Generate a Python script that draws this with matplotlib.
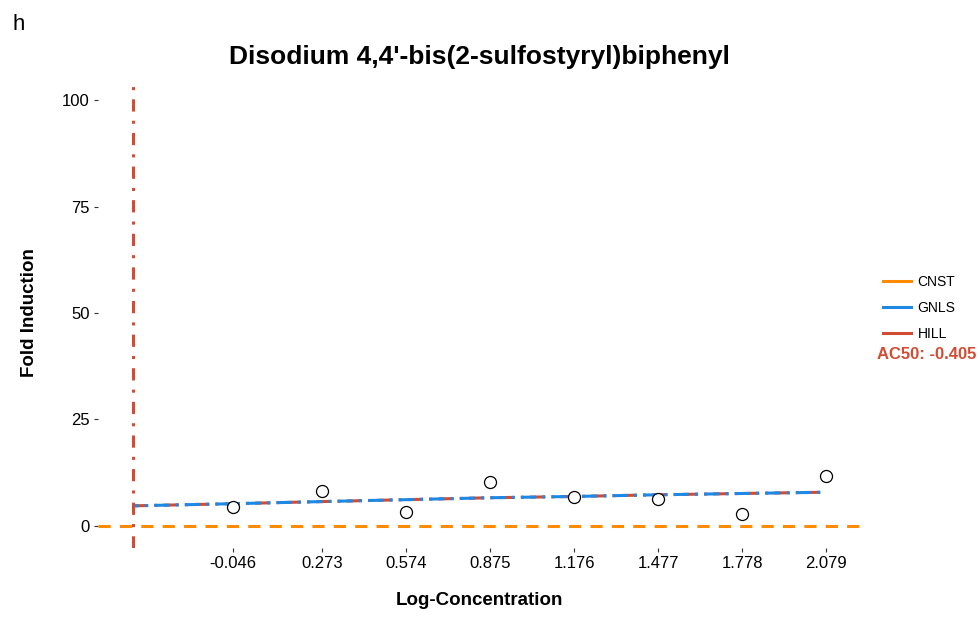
import numpy as np
import matplotlib.pyplot as plt
from matplotlib.lines import Line2D

plt.rcParams['font.family'] = ['Liberation Sans', 'DejaVu Sans']

# measured points
log_conc = [-0.046, 0.273, 0.574, 0.875, 1.176, 1.477, 1.778, 2.079]
fold_ind = [4.5, 8.2, 3.3, 10.3, 6.8, 6.3, 2.8, 11.7]

# fitted curves
fit_x = [-0.405, -0.046, 0.273, 0.574, 0.875, 1.176, 1.477, 1.778, 2.079]
gnls_y = [4.7, 5.2, 5.7, 6.15, 6.6, 6.9, 7.3, 7.6, 7.9]
hill_y = [4.7, 5.2, 5.7, 6.15, 6.6, 6.9, 7.3, 7.6, 7.9]
cnst_y = 0.0
ac50 = -0.405

c_cnst = '#FF8C00'
c_gnls = '#1E88E5'
c_hill = '#D24B33'

fig = plt.figure(figsize=(9.8, 6.18), dpi=100)
ax = fig.add_axes([0.1, 0.1133, 0.7776, 0.7605])

xlim = (-0.53, 2.20)
ax.plot(xlim, [cnst_y, cnst_y], color=c_cnst, lw=2.2, ls=(0, (4, 3)))
ax.plot(fit_x, hill_y, color=c_hill, lw=2.2, ls=(0, (5, 2, 1, 2)))
ax.plot(fit_x, gnls_y, color=c_gnls, lw=2.2, ls=(3, (5, 2, 1, 2)))
ax.axvline(ac50, color=c_hill, lw=2.2, ls=(0, (4, 3, 1, 3)))
ax.scatter(log_conc, fold_ind, s=75, facecolor='white', edgecolor='black',
           linewidth=0.9, zorder=5)

ax.set_xlim(*xlim)
ax.set_ylim(-5.2, 105.2)
ax.set_xticks(log_conc)
ax.set_xticklabels([f'{v:.3f}' for v in log_conc])
ax.set_yticks([0, 25, 50, 75, 100])
for s in ax.spines.values():
    s.set_visible(False)
ax.tick_params(axis='both', length=3, width=0.8, color='#333333',
               labelsize=12, labelcolor='black', pad=3)

ax.set_xlabel('Log-Concentration', fontsize=13.5, fontweight='bold', labelpad=15)
ax.set_ylabel('Fold Induction', fontsize=13.5, fontweight='bold', labelpad=17)
ax.set_title('Disodium 4,4\'-bis(2-sulfostyryl)biphenyl', fontsize=19,
             fontweight='bold', pad=10)

fig.text(0.013, 0.96, 'h', fontsize=16, va='center')

handles = [Line2D([], [], color=c, lw=2.2) for c in (c_cnst, c_gnls, c_hill)]
leg = fig.legend(handles, ['CNST', 'GNLS', 'HILL'], loc='upper left',
                 bbox_to_anchor=(0.888, 0.575), frameon=False, fontsize=10,
                 handlelength=2.0, handletextpad=0.5, labelspacing=0.85)
fig.text(0.895, 0.427, f'AC50: {ac50}', color=c_hill, fontsize=12,
         fontweight='bold', va='center')

fig.savefig('out.png', dpi=100)
